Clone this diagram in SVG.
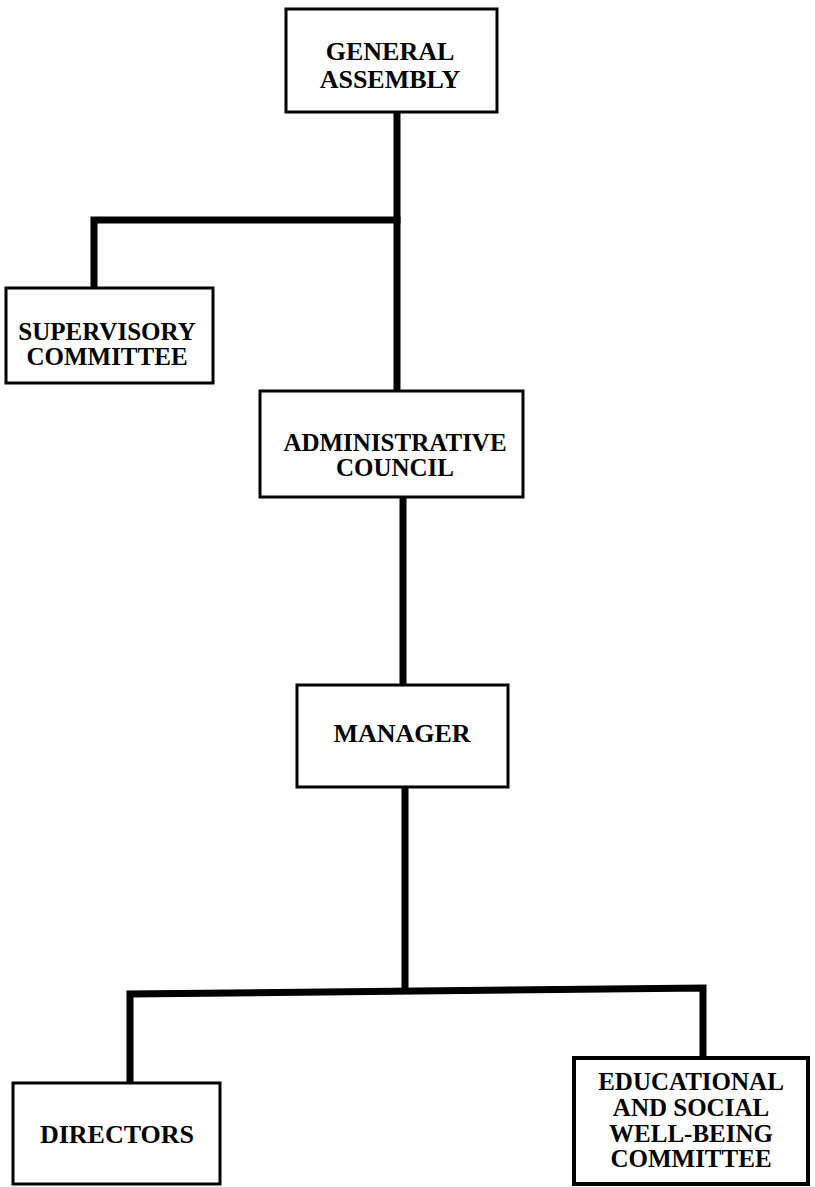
<svg xmlns="http://www.w3.org/2000/svg" width="815" height="1187" viewBox="0 0 815 1187">
<style>
.box{fill:#fff;stroke:#000;stroke-width:3}
.lbl{font-family:"Liberation Serif","Times New Roman",serif;font-weight:bold;font-size:25px;fill:#000;text-anchor:middle}
.big{font-size:26px}
.con{fill:none;stroke:#000;stroke-width:7;stroke-linecap:square;stroke-linejoin:miter}
</style>
<rect width="815" height="1187" fill="#fff"/>
<g id="connectors">
<path class="con" d="M397,112 V390"/>
<path class="con" d="M397,220 H94 V287"/>
<path class="con" d="M403,498 V684"/>
<path class="con" d="M405,788 V990"/>
<path class="con" d="M130,1082 V994 L703,988 V1057"/>
</g>
<g id="general-assembly">
<rect class="box" x="286" y="9" width="211" height="103"/>
<text class="lbl big" x="390" y="60">GENERAL</text>
<text class="lbl big" x="390" y="88">ASSEMBLY</text>
</g>
<g id="supervisory-committee">
<rect class="box" x="6" y="288" width="207" height="95"/>
<text class="lbl" x="107" y="340">SUPERVISORY</text>
<text class="lbl" x="107" y="365">COMMITTEE</text>
</g>
<g id="administrative-council">
<rect class="box" x="260" y="391" width="263" height="106"/>
<text class="lbl" x="395" y="451">ADMINISTRATIVE</text>
<text class="lbl" x="395" y="476">COUNCIL</text>
</g>
<g id="manager">
<rect class="box" x="297" y="685" width="211" height="102"/>
<text class="lbl big" x="402" y="742">MANAGER</text>
</g>
<g id="directors">
<rect class="box" x="13" y="1083" width="207" height="101"/>
<text class="lbl big" x="117" y="1143">DIRECTORS</text>
</g>
<g id="educational-committee">
<rect class="box" x="574" y="1058" width="234" height="126" style="stroke-width:4"/>
<text class="lbl" x="691" y="1090">EDUCATIONAL</text>
<text class="lbl" x="691" y="1116">AND SOCIAL</text>
<text class="lbl" x="691" y="1142">WELL-BEING</text>
<text class="lbl" x="691" y="1167">COMMITTEE</text>
</g>
</svg>
